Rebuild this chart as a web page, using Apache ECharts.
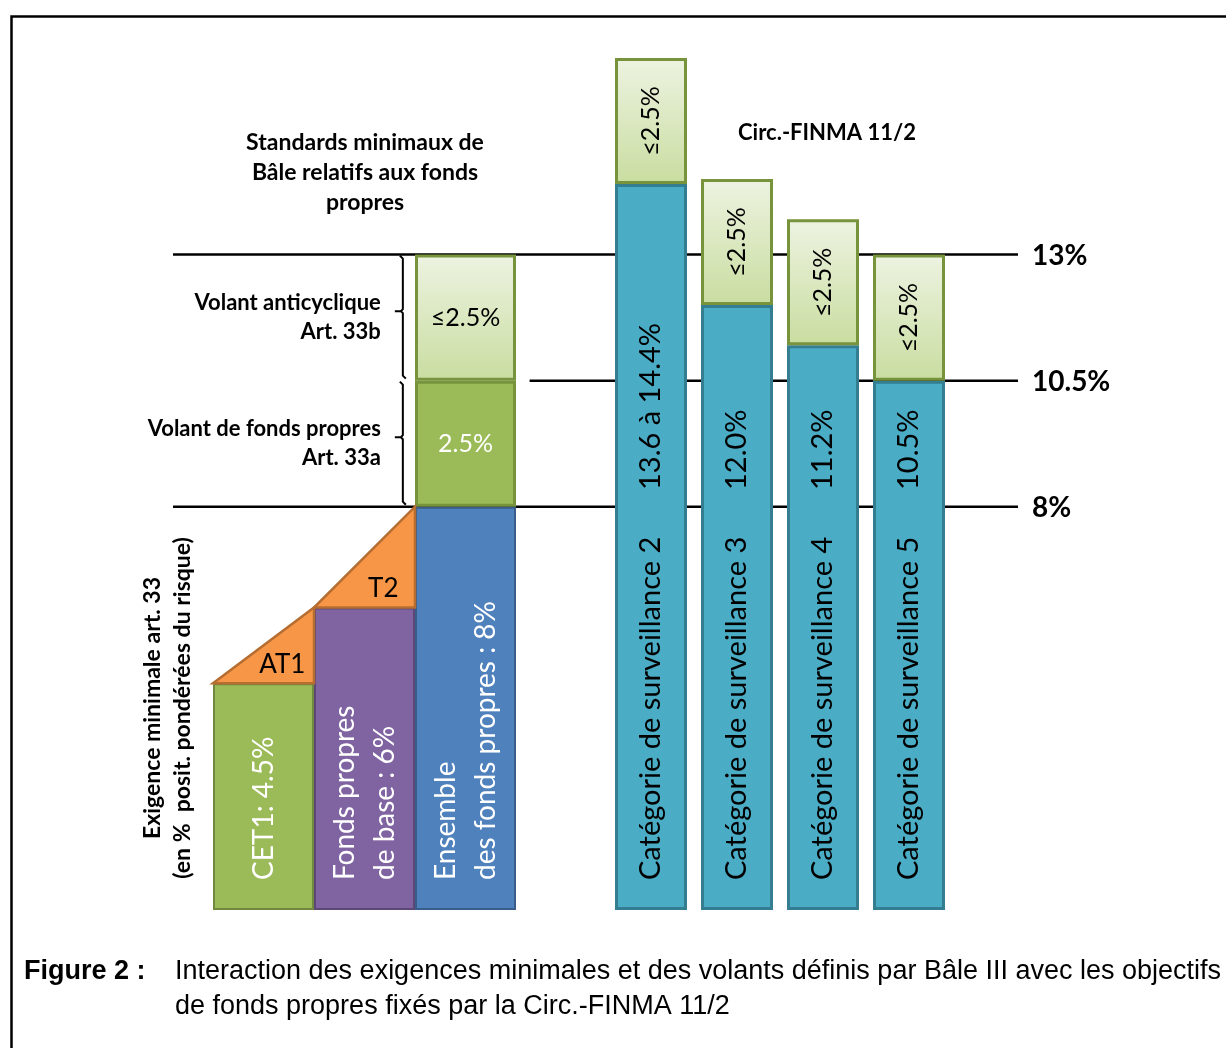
<!DOCTYPE html>
<html>
<head>
<meta charset="utf-8">
<script src="https://cdn.jsdelivr.net/npm/echarts@6/dist/echarts.min.js"></script>
<style>
    html, body { margin: 0; padding: 0; background: #fff; }
    #main { width: 1226px; height: 1048px; }
</style>
</head>
<body>
<div id="main"></div>
<script>
// niveaux de référence (en % des positions pondérées du risque)
const levelValues = [13, 10.5, 8];
const levelLabels = ['13%', '10.5%', '8%'];

// Bâle III : exigences minimales et volants
const baseCategories = ['CET1', 'Fonds propres de base', 'Ensemble des fonds propres'];
const baseValues = [4.5, 6, 8];
const baseLabels = ['CET1: 4.5%', 'Fonds propres\nde base : 6%', 'Ensemble\ndes fonds propres : 8%'];
const conservationBuffer = ['-', '-', 2.5];
const countercyclicalBuffer = ['-', '-', 2.5];
// [catégorie, de, à]
const tierSteps = [[0, 4.5, 6], [1, 6, 8]];
const tierLabels = ['AT1', 'T2'];
const bracketRanges = [[13, 10.5], [10.5, 8]];
const bracketLabels = ['Volant anticyclique\nArt. 33b', 'Volant de fonds propres\nArt. 33a'];

// Circ.-FINMA 11/2
const finmaCategories = ['Catégorie de surveillance 2', 'Catégorie de surveillance 3', 'Catégorie de surveillance 4', 'Catégorie de surveillance 5'];
const finmaValues = [14.4, 12.0, 11.2, 10.5];
const finmaValueLabels = ['13.6 à 14.4%', '12.0%', '11.2%', '10.5%'];
const finmaBuffer = [2.5, 2.5, 2.5, 2.5];

// mise en page (unités de l'axe x du calque des lignes, 0..100)
const lineStart = [0, 42.2, 0];
const lineEnd = 100;
const bracketX = 27.2;

const CAL = 'Lato, "Open Sans", sans-serif';
const ARIAL = '"Liberation Sans", Arial, sans-serif';

const baseColors = ['#9BBB59', '#8064A2', '#4F81BD'];
const baseBorders = ['#71893F', '#5C4776', '#385D8A'];
const lightGreen = {
    type: 'linear', x: 0, y: 0, x2: 0, y2: 1,
    colorStops: [{offset: 0, color: '#EDF3E1'}, {offset: 1, color: '#C9DDA0'}]
};

let myChart = echarts.init(document.getElementById('main'));

const yAxisCfg = {type: 'value', min: 0, max: 16.9, show: false};

myChart.setOption({
    animation: false,
    grid: [
        {left: 173, right: 208, top: 58, bottom: 138},   // lignes / accolades
        {left: 213, width: 303, top: 58, bottom: 138},   // Bâle
        {left: 608, width: 344, top: 58, bottom: 138}    // FINMA
    ],
    xAxis: [
        {gridIndex: 0, type: 'value', min: 0, max: 100, show: false},
        {gridIndex: 1, type: 'category', data: baseCategories, show: false},
        {gridIndex: 2, type: 'category', data: finmaCategories, show: false}
    ],
    yAxis: [
        Object.assign({gridIndex: 0}, yAxisCfg),
        Object.assign({gridIndex: 1}, yAxisCfg),
        Object.assign({gridIndex: 2}, yAxisCfg)
    ],
    graphic: [
        {
            type: 'rect', left: 9, top: 14, silent: true,
            shape: {width: 1300, height: 1100},
            style: {fill: 'none', stroke: '#000', lineWidth: 2.5}
        },
        {
            type: 'text', x: 365, y: 173,
            style: {text: 'Standards minimaux de\nBâle relatifs aux fonds\npropres', font: 'bold 23px ' + CAL,
                align: 'center', verticalAlign: 'middle', lineHeight: 30, fill: '#000'}
        },
        {
            type: 'text', x: 827, y: 133,
            style: {text: 'Circ.-FINMA 11/2', font: 'bold 22px ' + CAL,
                align: 'center', verticalAlign: 'middle', fill: '#000'}
        },
        {
            type: 'text', x: 168, y: 708, rotation: Math.PI / 2,
            style: {text: 'Exigence minimale art. 33\n(en %  posit. pondérées du risque)', font: 'bold 23px ' + CAL,
                align: 'center', verticalAlign: 'middle', lineHeight: 30, fill: '#000'}
        },
        {
            type: 'text', x: 24, y: 972,
            style: {text: 'Figure 2 :', font: 'bold 27px ' + ARIAL, verticalAlign: 'middle', fill: '#000'}
        },
        {
            type: 'text', x: 175, y: 989,
            style: {text: 'Interaction des exigences minimales et des volants définis par Bâle III avec les objectifs\nde fonds propres fixés par la Circ.-FINMA 11/2',
                font: '27px ' + ARIAL, verticalAlign: 'middle', lineHeight: 35, fill: '#000'}
        }
    ],
    series: [
        {
            // lignes horizontales 8 / 10.5 / 13 %
            type: 'custom', xAxisIndex: 0, yAxisIndex: 0, z: 1,
            data: levelValues.map((v, i) => [lineStart[i], lineEnd, v]),
            renderItem: function (params, api) {
                let p0 = api.coord([api.value(0), api.value(2)]);
                let p1 = api.coord([api.value(1), api.value(2)]);
                return {
                    type: 'group', children: [
                        {type: 'line', shape: {x1: p0[0], y1: p0[1], x2: p1[0], y2: p1[1]},
                            style: {stroke: '#000', lineWidth: 2.5}},
                        {type: 'text', style: {text: levelLabels[params.dataIndex], x: p1[0] + 14, y: p1[1] + 1,
                                font: 'bold 28px ' + CAL, fill: '#000', align: 'left', verticalAlign: 'middle'}}
                    ]
                };
            }
        },
        {
            // accolades des volants
            type: 'custom', xAxisIndex: 0, yAxisIndex: 0, z: 1,
            data: bracketRanges.map(r => [bracketX, r[0], r[1]]),
            renderItem: function (params, api) {
                let top = api.coord([api.value(0), api.value(1)]);
                let bot = api.coord([api.value(0), api.value(2)]);
                let x = top[0], y0 = top[1] + 1, y1 = bot[1] - 2, ym = (y0 + y1) / 2 - 6;
                return {
                    type: 'group', children: [
                        {type: 'polyline', shape: {points: [[x - 3, y0], [x, y0 + 3], [x, ym - 2], [x - 2, ym], [x - 8, ym], [x - 2, ym], [x, ym + 2], [x, y1 - 3], [x + 3, y1]]},
                            style: {stroke: '#000', lineWidth: 2, fill: null}},
                        {type: 'text', style: {text: bracketLabels[params.dataIndex], x: x - 22, y: (y0 + y1) / 2,
                                font: 'bold 22px ' + CAL, fill: '#000', align: 'right', verticalAlign: 'middle', lineHeight: 29}}
                    ]
                };
            }
        },
        {
            name: 'Exigence minimale', type: 'bar', xAxisIndex: 1, yAxisIndex: 1, stack: 'bale', z: 3,
            barCategoryGap: '0%',
            data: baseValues.map((v, i) => ({value: v, itemStyle: {color: baseColors[i], borderColor: baseBorders[i]}})),
            itemStyle: {borderWidth: 2},
            label: {
                show: true, formatter: p => baseLabels[p.dataIndex],
                position: 'insideBottom', distance: 30, rotate: 90, align: 'left', verticalAlign: 'middle',
                color: '#fff', fontSize: 28, lineHeight: 40, fontFamily: CAL
            }
        },
        {
            name: 'Volant de fonds propres', type: 'bar', xAxisIndex: 1, yAxisIndex: 1, stack: 'bale', z: 3,
            barCategoryGap: '0%',
            data: conservationBuffer,
            itemStyle: {color: '#9BBB59', borderColor: '#77933C', borderWidth: 3},
            label: {show: true, formatter: '{c}%', position: 'inside', color: '#fff', fontSize: 25, fontFamily: CAL}
        },
        {
            name: 'Volant anticyclique', type: 'bar', xAxisIndex: 1, yAxisIndex: 1, stack: 'bale', z: 3,
            barCategoryGap: '0%',
            data: countercyclicalBuffer,
            itemStyle: {color: lightGreen, borderColor: '#77933C', borderWidth: 3},
            label: {show: true, formatter: '≤{c}%', position: 'inside', color: '#000', fontSize: 25, fontFamily: CAL}
        },
        {
            // triangles AT1 / T2
            type: 'custom', xAxisIndex: 1, yAxisIndex: 1, z: 4,
            data: tierSteps,
            renderItem: function (params, api) {
                let a = api.coord([api.value(0), api.value(1)]);
                let b = api.coord([api.value(0), api.value(2)]);
                let w = api.size([1, 0])[0];
                let l = a[0] - w / 2, r = a[0] + w / 2;
                return {
                    type: 'group', children: [
                        {type: 'polygon', shape: {points: [[l, a[1]], [r, a[1]], [r, b[1]]]},
                            style: {fill: '#F79646', stroke: '#B66D31', lineWidth: 2.5}},
                        {type: 'text', style: {text: tierLabels[params.dataIndex], x: (l + 2 * r) / 3 + 2, y: a[1] - 19,
                                font: '26px ' + CAL, fill: '#000', align: 'center', verticalAlign: 'middle'}}
                    ]
                };
            }
        },
        {
            name: 'Objectif', type: 'bar', xAxisIndex: 2, yAxisIndex: 2, stack: 'finma', z: 3,
            barWidth: 72,
            data: finmaValues,
            itemStyle: {color: '#4BACC6', borderColor: '#357D91', borderWidth: 3},
            label: {
                show: true, position: 'insideBottom', distance: 30, rotate: 90, align: 'left', verticalAlign: 'middle',
                formatter: p => '{a|' + finmaCategories[p.dataIndex] + '}{b|' + finmaValueLabels[p.dataIndex] + '}',
                rich: {
                    a: {width: 390, fontSize: 29, color: '#000', fontFamily: CAL},
                    b: {fontSize: 29, color: '#000', fontFamily: CAL}
                }
            }
        },
        {
            name: 'Volant', type: 'bar', xAxisIndex: 2, yAxisIndex: 2, stack: 'finma', z: 3,
            barWidth: 72,
            data: finmaBuffer,
            itemStyle: {color: lightGreen, borderColor: '#77933C', borderWidth: 3},
            label: {show: true, formatter: '≤{c}%', position: 'inside', rotate: 90, color: '#000', fontSize: 25, fontFamily: CAL}
        }
    ]
});
</script>
</body>
</html>
